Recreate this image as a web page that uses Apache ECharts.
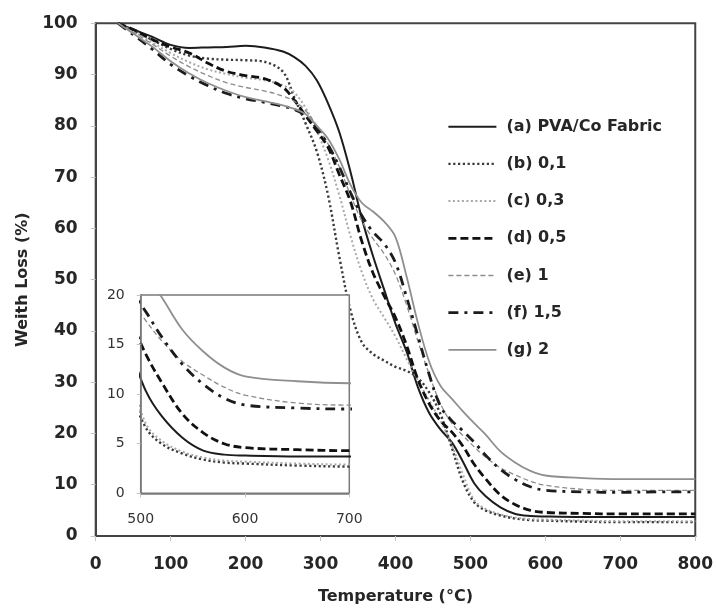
<!DOCTYPE html>
<html>
<head>
<meta charset="utf-8">
<script src="https://cdn.jsdelivr.net/npm/echarts@6/dist/echarts.min.js"></script>
<style>
  html, body { margin: 0; padding: 0; background: #fff; }
  #chart { width: 716px; height: 610px; }
</style>
</head>
<body>
<div id="chart"></div>
<script>
// Temperature sampling points (°C), shared by every TGA curve
const temps = [30, 50, 75, 100, 125, 150, 175, 200, 225, 250, 265, 280, 295, 310, 325, 340, 355, 370, 385, 400,
               415, 430, 445, 460, 475, 490, 505, 520, 540, 560, 580, 600, 650, 700, 750, 800];

// Remaining mass (%) for each sample
const fabric = [100, 98.8, 97.4, 95.8, 95.2, 95.3, 95.4, 95.6, 95.3, 94.5, 93.4, 91.7, 88.9, 84.4, 78.8, 71, 62, 54.6, 48, 41.4,
                35.9, 29, 24, 20.8, 18.3, 14.5, 10.3, 7.8, 5.6, 4.3, 3.9, 3.8, 3.7, 3.7, 3.7, 3.7];
const load01 = [100, 98.6, 96.8, 95, 93.7, 93.1, 92.9, 92.8, 92.5, 90.5, 85.5, 80.5, 75, 66.5, 54.5, 44, 37.8, 35.5, 34.2, 33,
                32.2, 30.8, 28, 23.8, 17.3, 10.6, 6.6, 5, 4, 3.4, 3.1, 3, 2.8, 2.7, 2.7, 2.7];
const load03 = [100, 98.4, 96.3, 94.2, 92.4, 91, 90.1, 89.4, 88.9, 87.9, 86.5, 83.5, 79, 73.5, 66.5, 58.5, 51.5, 46.2, 42.6, 38.9,
                34.5, 30.3, 26.4, 22.5, 17.8, 12, 7, 5.3, 4.2, 3.6, 3.3, 3.2, 3, 2.9, 2.9, 2.9];
const load05 = [100, 98.8, 96.9, 95.4, 94.2, 92.2, 90.6, 89.8, 89.2, 87.5, 85, 82, 79, 75.8, 70.5, 65.2, 57.5, 51.3, 46.8, 42.6,
                37.1, 30.5, 25.8, 22.5, 20.3, 17.5, 14, 11.2, 8, 6.1, 5, 4.6, 4.4, 4.3, 4.3, 4.3];
const load1 = [100, 98.3, 96, 93.6, 91.5, 89.8, 88.4, 87.5, 86.8, 85.8, 84.8, 83, 80, 76.5, 72, 66.5, 61.5, 58, 55, 51,
               45, 38, 31.5, 25.8, 22, 19.6, 17.4, 15.4, 13.3, 11.9, 10.7, 9.9, 9.1, 8.9, 8.9, 8.9];
const load15 = [100, 97.8, 95, 92, 89.7, 87.8, 86.3, 85.3, 84.6, 83.8, 83.2, 82, 79.5, 76.3, 72, 67, 62.5, 59.3, 57, 53.3,
                46.5, 39, 31.5, 25.3, 22.5, 20.5, 18.3, 15.8, 13, 11, 9.6, 8.9, 8.6, 8.5, 8.6, 8.6];
const load2 = [100, 98, 95.5, 92.6, 90.2, 88.3, 86.8, 85.6, 84.8, 84, 83.3, 82.3, 80, 77.5, 73.5, 68.5, 65, 63.3, 61.3, 58.3,
               50.5, 41.5, 34, 29.3, 26.8, 24.3, 22, 19.8, 16.5, 14.3, 12.7, 11.8, 11.3, 11.1, 11.1, 11.1];

const seriesNames = ['(a) PVA/Co Fabric', '(b) 0,1', '(c) 0,3', '(d) 0,5', '(e) 1', '(f) 1,5', '(g) 2'];
const seriesValues = [fabric, load01, load03, load05, load1, load15, load2];

// Line appearance per sample
const lineStyles = [
  { color: '#1c1c1c', width: 2,   type: 'solid' },
  { color: '#3a3a3a', width: 2.4, type: [2.2, 2.6] },
  { color: '#a8a8a8', width: 2,   type: [2, 2.5] },
  { color: '#111111', width: 2.8, type: [8, 4] },
  { color: '#8c8c8c', width: 1.3, type: [5, 3] },
  { color: '#1c1c1c', width: 2.8, type: [10, 6, 3, 6] },
  { color: '#8f8f8f', width: 1.8, type: 'solid' }
];

const FONT = 'DejaVu Sans';
const TEXT = '#262626';

function buildSeries(axisIdx, z) {
  return seriesNames.map((name, i) => ({
    name: name,
    type: 'line',
    xAxisIndex: axisIdx,
    yAxisIndex: axisIdx,
    data: temps.map((t, k) => [t, seriesValues[i][k]]),
    symbol: 'none',
    smooth: 0.35,
    clip: true,
    silent: true,
    z: z,
    lineStyle: lineStyles[i]
  }));
}

const chart = echarts.init(document.getElementById('chart'), null, { renderer: 'canvas' });

chart.setOption({
  animation: false,
  backgroundColor: '#fff',
  grid: [
    { left: 95.7, right: 20.3, top: 23.3, bottom: 72.3, show: true,
      borderColor: '#444', borderWidth: 2, backgroundColor: 'transparent' },
    // zoomed view of the residue region
    { left: 140.7, right: 366.7, top: 295, bottom: 116.7, show: true,
      borderColor: '#7a7a7a', borderWidth: 1.5, backgroundColor: '#fff', z: 10 }
  ],
  xAxis: [
    { type: 'value', gridIndex: 0, min: 0, max: 800, interval: 100,
      name: 'Temperature (°C)', nameLocation: 'middle', nameGap: 53,
      nameTextStyle: { fontFamily: FONT, fontWeight: 'bold', fontSize: 16, color: TEXT },
      axisLine: { lineStyle: { color: '#444', width: 2 } },
      axisTick: { show: true, length: 5, lineStyle: { color: '#c4c4c4', width: 1 } },
      axisLabel: { margin: 20, fontFamily: FONT, fontWeight: 'bold', fontSize: 17, color: TEXT },
      splitLine: { show: false } },
    { type: 'value', gridIndex: 1, min: 500, max: 700, interval: 100, z: 12,
      axisLine: { lineStyle: { color: '#7a7a7a', width: 1.5 } },
      axisTick: { show: true, length: 4, lineStyle: { color: '#c4c4c4', width: 1 } },
      axisLabel: { margin: 19, fontFamily: FONT, fontSize: 14, color: '#333' },
      splitLine: { show: false } }
  ],
  yAxis: [
    { type: 'value', gridIndex: 0, min: 0, max: 100, interval: 10,
      name: 'Weith Loss (%)', nameLocation: 'middle', nameGap: 60,
      nameTextStyle: { fontFamily: FONT, fontWeight: 'bold', fontSize: 16, color: TEXT },
      axisLine: { show: true, lineStyle: { color: '#444', width: 2 } },
      axisTick: { show: true, length: 5, lineStyle: { color: '#c4c4c4', width: 1 } },
      axisLabel: { margin: 18, fontFamily: FONT, fontWeight: 'bold', fontSize: 17, color: TEXT },
      splitLine: { show: false } },
    { type: 'value', gridIndex: 1, min: 0, max: 20, interval: 5, z: 12,
      axisLine: { show: true, lineStyle: { color: '#7a7a7a', width: 1.5 } },
      axisTick: { show: true, length: 4, lineStyle: { color: '#c4c4c4', width: 1 } },
      axisLabel: { margin: 16, fontFamily: FONT, fontSize: 14, color: '#333' },
      splitLine: { show: false } }
  ],
  legend: {
    data: seriesNames,
    orient: 'vertical',
    left: 447,
    top: 116.7,
    padding: 0,
    itemWidth: 48,
    itemHeight: 14,
    itemGap: 17.2,
    selectedMode: false,
    itemStyle: { opacity: 0 },
    lineStyle: { width: 'inherit' },
    textStyle: { fontFamily: FONT, fontWeight: 'bold', fontSize: 16, color: TEXT,
                 lineHeight: 20, padding: [0, 0, 0, 5] }
  },
  series: buildSeries(0, 2).concat(buildSeries(1, 11))
});
</script>
</body>
</html>
